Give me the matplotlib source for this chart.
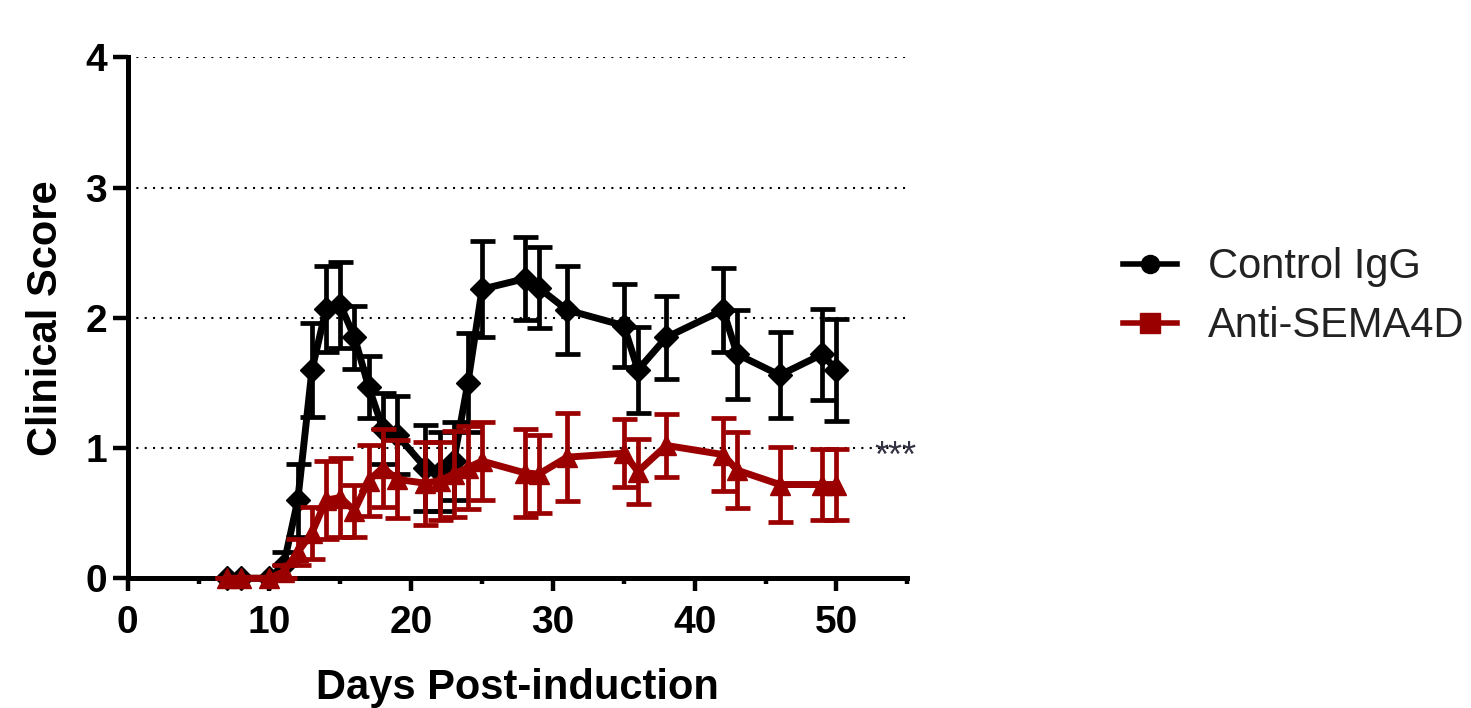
import numpy as np
import matplotlib.pyplot as plt
from matplotlib.lines import Line2D
from matplotlib.ticker import MultipleLocator

# Clinical score time course, control IgG vs anti-SEMA4D

days = [7, 8, 10, 11, 12, 13, 14, 15, 16, 17, 18, 19, 21, 22,
        23, 24, 25, 28, 29, 31, 35, 36, 38, 42, 43, 46, 49, 50]

ctrl_mean = [0, 0, 0, 0.1, 0.6, 1.6, 2.07, 2.1, 1.85, 1.47, 1.15, 1.1, 0.85, 0.82,
             0.9, 1.5, 2.22, 2.3, 2.23, 2.06, 1.94, 1.6, 1.85, 2.06, 1.72, 1.56, 1.72, 1.6]
ctrl_sem = [0, 0, 0, 0.1, 0.28, 0.36, 0.33, 0.33, 0.24, 0.24, 0.27, 0.3, 0.33, 0.3,
            0.3, 0.38, 0.37, 0.32, 0.31, 0.34, 0.32, 0.33, 0.32, 0.32, 0.34, 0.33, 0.35, 0.39]

sema_mean = [0, 0, 0, 0.05, 0.2, 0.35, 0.6, 0.62, 0.52, 0.75, 0.85, 0.76, 0.73, 0.75,
             0.8, 0.85, 0.9, 0.81, 0.8, 0.93, 0.96, 0.82, 1.02, 0.95, 0.83, 0.72, 0.72, 0.72]
sema_sem = [0, 0, 0, 0.05, 0.1, 0.2, 0.3, 0.3, 0.2, 0.27, 0.3, 0.3, 0.32, 0.3,
            0.33, 0.32, 0.3, 0.34, 0.3, 0.34, 0.26, 0.25, 0.24, 0.28, 0.29, 0.29, 0.27, 0.27]

labels = ['Control IgG', 'Anti-SEMA4D']
red = '#9b0000'

plt.rcParams['font.family'] = ['Liberation Sans', 'DejaVu Sans']

fig = plt.figure(figsize=(14.71, 7.08), dpi=100)
ax = fig.add_axes([0.0868, 0.1832, 0.530, 0.7358])

ax.errorbar(days, ctrl_mean, yerr=ctrl_sem, color='black', marker='D', markersize=12,
            linewidth=5, elinewidth=3.4, capsize=9, capthick=3.4, clip_on=False, zorder=3)
ax.errorbar(days, sema_mean, yerr=sema_sem, color=red, marker='^', markersize=14,
            linewidth=5, elinewidth=3.4, capsize=9, capthick=3.4, clip_on=False, zorder=4)

ax.set_xlim(0, 55)
ax.set_ylim(0, 4)
ax.xaxis.set_major_locator(MultipleLocator(10))
ax.xaxis.set_minor_locator(MultipleLocator(5))
ax.set_yticks([0, 1, 2, 3, 4])

for y in [1, 2, 3, 4]:
    ax.axhline(y, color='black', linestyle=(0, (1, 3)), linewidth=1.5, zorder=1)

for s in ['top', 'right']:
    ax.spines[s].set_visible(False)
for s in ['left', 'bottom']:
    ax.spines[s].set_linewidth(3.6)

ax.tick_params(axis='y', which='major', direction='out', length=11, width=3.2, pad=4, labelsize=28)
ax.tick_params(axis='x', which='major', direction='out', length=9, width=3.2, pad=10, labelsize=28)
ax.tick_params(axis='x', which='minor', direction='out', length=4.5, width=3.2)
for lab in ax.get_xticklabels() + ax.get_yticklabels():
    lab.set_fontweight('bold')

ax.set_xlabel('Days Post-induction', fontsize=30, fontweight='bold', labelpad=20)
ax.set_ylabel('Clinical Score', fontsize=30, fontweight='bold', labelpad=14)

ax.text(52.7, 0.93, '***', fontsize=26, color='#333344', ha='left', va='center')

handles = [Line2D([], [], color='black', marker='o', markersize=13, linewidth=4),
           Line2D([], [], color=red, marker='s', markersize=14, linewidth=4)]
fig.legend(handles, labels, loc='upper left', bbox_to_anchor=(0.749, 0.68),
           frameon=False, fontsize=30, handlelength=1.3, handletextpad=0.75,
           labelspacing=0.45, borderpad=0, labelcolor='#222222')

fig.savefig('out.png', dpi=100)
